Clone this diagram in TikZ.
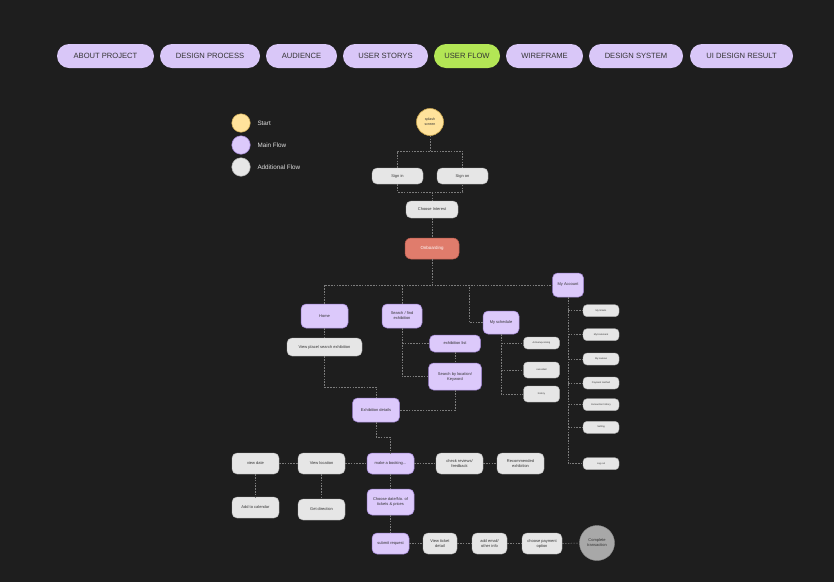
\documentclass[tikz,border=0pt]{standalone}
\usepackage{fontspec}
\setmainfont{Liberation Sans}
\definecolor{bg}{HTML}{1E1E1E}
\definecolor{lav}{HTML}{DCC9FB}
\definecolor{lavb}{HTML}{9C80CF}
\definecolor{navlav}{HTML}{D9C7F8}
\definecolor{navgreen}{HTML}{B3E655}
\definecolor{greyf}{HTML}{E6E6E6}
\definecolor{greyb}{HTML}{B0B0B0}
\definecolor{yell}{HTML}{FFE29B}
\definecolor{yellb}{HTML}{C9A650}
\definecolor{salmon}{HTML}{E07C6C}
\definecolor{salmonb}{HTML}{B85A4C}
\definecolor{donec}{HTML}{A8A8A8}
\definecolor{txt}{HTML}{333333}
\definecolor{linec}{HTML}{7C7C7C}
\begin{document}
\begin{tikzpicture}[x=1pt,y=-1pt,
  navpill/.style={fill=navlav, rounded corners=12pt, minimum height=24pt, inner sep=0pt, text=txt, font=\fontsize{7.6}{9}\selectfont},
  mainbox/.style={fill=lav, draw=lavb, line width=0.5pt, rounded corners=5pt, inner sep=1pt, align=center, text=txt, font=\fontsize{4}{5}\selectfont},
  addbox/.style={fill=greyf, draw=greyb, line width=0.4pt, rounded corners=5pt, inner sep=1pt, align=center, text=txt, font=\fontsize{4}{5}\selectfont},
  tinybox/.style={fill=greyf, draw=greyb, line width=0.4pt, rounded corners=4pt, inner sep=0.5pt, align=center, text=txt, minimum width=36pt, minimum height=12pt, font=\fontsize{2.4}{3}\selectfont},
  legc/.style={circle, minimum size=18.5pt, inner sep=0pt, line width=0.5pt},
  legt/.style={anchor=west, text=white!88!black, font=\fontsize{6.3}{7.5}\selectfont},
  conn/.style={draw=linec, dashed, dash pattern=on 1.6pt off 1.2pt, line width=0.5pt}]
\useasboundingbox (0,0) rectangle (834,582);
\fill[bg] (0,0) rectangle (834,582);

% navigation bar
\node[navpill, minimum width=97pt] (n1) at (105.5,56) {ABOUT PROJECT};
\node[navpill, minimum width=100pt] (n2) at (210,56) {DESIGN PROCESS};
\node[navpill, minimum width=71pt] (n3) at (301.5,56) {AUDIENCE};
\node[navpill, minimum width=85pt] (n4) at (385.5,56) {USER STORYS};
\node[navpill, minimum width=66pt, fill=navgreen] (n5) at (467,56) {USER FLOW};
\node[navpill, minimum width=77pt] (n6) at (544.5,56) {WIREFRAME};
\node[navpill, minimum width=94pt] (n7) at (636,56) {DESIGN SYSTEM};
\node[navpill, minimum width=103pt] (n8) at (741.5,56) {UI DESIGN RESULT};

% legend
\node[legc, fill=yell, draw=yellb] (l1) at (241,123) {};
\node[legc, fill=lav, draw=lavb] (l2) at (241,145) {};
\node[legc, fill=greyf, draw=greyb] (l3) at (241,167) {};
\node[legt] (lt1) at (254,123) {Start};
\node[legt] (lt2) at (254,145) {Main Flow};
\node[legt] (lt3) at (254,167) {Additional Flow};

% top flow
\node[circle, fill=yell, draw=yellb, line width=0.6pt, minimum size=27pt, inner sep=0pt, align=center, text=txt, font=\fontsize{3.6}{4.6}\selectfont] (splash) at (430,122) {splash\\screen};
\node[addbox, minimum width=51pt, minimum height=16pt] (signin) at (397.5,176) {Sign in};
\node[addbox, minimum width=51pt, minimum height=16pt] (signon) at (462.5,176) {Sign on};
\node[addbox, minimum width=52pt, minimum height=17pt] (interest) at (432,209.5) {Choose Interest};
\node[fill=salmon, draw=salmonb, line width=0.5pt, rounded corners=6pt, minimum width=54pt, minimum height=21pt, text=white, font=\fontsize{4.4}{5}\selectfont] (onboard) at (432,248.5) {Onboarding};

\coordinate (j1) at (430,151);
\coordinate (j2) at (432,192);
\draw[conn] (splash) -- (j1);
\draw[conn] (signin.north) |- (j1) -| (signon.north);
\draw[conn] (signin.south) |- (j2) -| (signon.south);
\draw[conn] (j2) -- (interest.north);
\draw[conn] (interest.south) -- (onboard.north);

% second level
\node[mainbox, minimum width=31pt, minimum height=24pt] (account) at (568,285) {My Account};
\node[mainbox, minimum width=47pt, minimum height=24pt] (home) at (324.5,316) {Home};
\node[mainbox, minimum width=40pt, minimum height=24pt] (search) at (402,316) {Search / find\\exhibition};
\node[mainbox, minimum width=36pt, minimum height=23pt] (schedule) at (501,322.5) {My schedule};
\coordinate (j4) at (469,285);
\draw[conn] (home.north) |- (account.west);
\draw[conn] (onboard.south) -- (onboard.south |- account.west);
\draw[conn] (search.north) -- (search.north |- account.west);
\draw[conn] (schedule.west) -| (j4);

% home branch
\node[addbox, minimum width=75pt, minimum height=18pt] (viewplace) at (324.5,347) {View place/ search exhibition};
\node[mainbox, minimum width=47pt, minimum height=24pt] (details) at (376,410) {Exhibition details};
\coordinate (c1) at (324.5,387);
\draw[conn] (home.south) -- (viewplace.north);
\draw[conn] (viewplace.south) -- (c1) -| (details.north);

% search branch
\node[mainbox, minimum width=51pt, minimum height=17pt] (exlist) at (455,343.5) {exhibition list};
\node[mainbox, minimum width=53pt, minimum height=27pt] (searchloc) at (455,376.5) {Search by location/\\Keyword};
\draw[conn] (search.south) |- (searchloc.west);
\draw[conn] (search.south |- exlist.west) -- (exlist.west);
\draw[conn] (exlist.south) -- (searchloc.north);
\draw[conn] (searchloc.south) |- (details.east);

% schedule branch
\node[tinybox] (active) at (541.5,343) {Active/upcoming};
\node[tinybox, minimum height=16pt] (cancel) at (541.5,370) {cancelled};
\node[tinybox, minimum height=16pt] (history) at (541.5,394) {history};
\draw[conn] (schedule.south) |- (history.west);
\draw[conn] (schedule.south |- active.west) -- (active.west);
\draw[conn] (schedule.south |- cancel.west) -- (cancel.west);

% account branch
\node[tinybox] (a1) at (601,310.7) {My tickets};
\node[tinybox] (a2) at (601,334.7) {My bookmark};
\node[tinybox] (a3) at (601,359) {My reviews};
\node[tinybox] (a4) at (601,383) {Payment method};
\node[tinybox] (a5) at (601,404.7) {transaction history};
\node[tinybox] (a6) at (601,427.3) {Setting};
\node[tinybox] (a7) at (601,463.7) {Log out};
\draw[conn] (account.south) |- (a7.west);
\foreach \k in {a1,a2,a3,a4,a5,a6} \draw[conn] (account.south |- \k.west) -- (\k.west);

% booking area
\node[mainbox, minimum width=47pt, minimum height=21pt] (booking) at (390.5,463.5) {make a booking...};
\coordinate (c2) at (376,437);
\draw[conn] (details.south) -- (c2) -| (booking.north);
\node[addbox, minimum width=47pt, minimum height=21pt] (viewdate) at (255.5,463.5) {view date};
\node[addbox, minimum width=47pt, minimum height=21pt] (viewloc) at (321.5,463.5) {View location};
\node[addbox, minimum width=47pt, minimum height=21pt] (calendar) at (255.5,507.5) {Add to calendar};
\node[addbox, minimum width=47pt, minimum height=21pt] (direction) at (321.5,509.5) {Get direction};
\node[addbox, minimum width=47pt, minimum height=21pt] (reviews) at (459.5,463.5) {check reviews/\\feedback};
\node[addbox, minimum width=47pt, minimum height=21pt] (recommend) at (520.5,463.5) {Recommended\\exhibition};
\node[mainbox, minimum width=47pt, minimum height=26pt] (choosedate) at (390.5,502) {Choose date/No. of\\tickets \& prices};
\node[mainbox, minimum width=37pt, minimum height=21pt] (submit) at (390.5,543.5) {submit request};
\node[addbox, minimum width=34pt, minimum height=21pt] (ticket) at (440,543.5) {View ticket\\detail};
\node[addbox, minimum width=35pt, minimum height=21pt] (email) at (489.5,543.5) {add email/\\other info};
\node[addbox, minimum width=40pt, minimum height=21pt] (payment) at (542,543.5) {choose payment\\option};
\node[circle, fill=donec, draw=donec!85!black, line width=0.4pt, minimum size=35pt, inner sep=0pt, align=center, text=txt, font=\fontsize{4}{5}\selectfont] (complete) at (597,543) {Complete\\transaction};

\draw[conn] (viewdate.east) -- (viewloc.west);
\draw[conn] (viewloc.east) -- (booking.west);
\draw[conn] (booking.east) -- (reviews.west);
\draw[conn] (reviews.east) -- (recommend.west);
\draw[conn] (viewdate.south) -- (calendar.north);
\draw[conn] (viewloc.south) -- (direction.north);
\draw[conn] (booking.south) -- (choosedate.north);
\draw[conn] (choosedate.south) -- (submit.north);
\draw[conn] (submit.east) -- (ticket.west);
\draw[conn] (ticket.east) -- (email.west);
\draw[conn] (email.east) -- (payment.west);
\draw[conn] (payment.east) -- (complete.west);
\end{tikzpicture}
\end{document}
